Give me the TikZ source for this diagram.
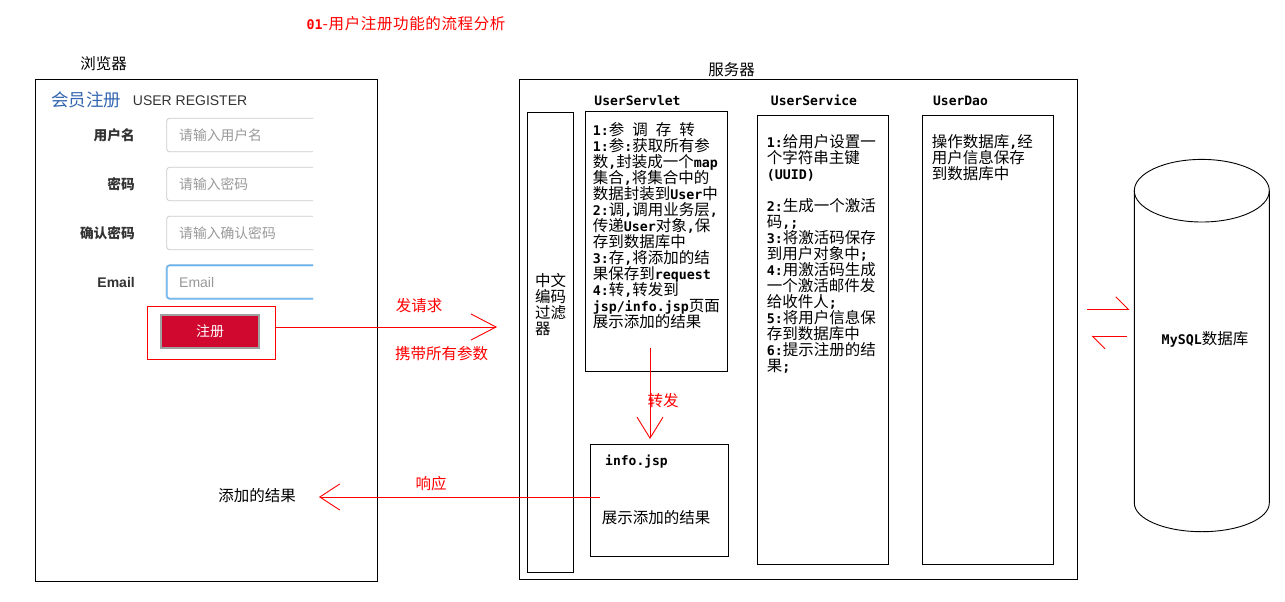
\documentclass[tikz,border=0pt]{standalone}
\usepackage{fontspec}
\setmainfont{Liberation Sans}
\newfontfamily\cjk{Noto Sans CJK SC}
\newfontfamily\monof{DejaVu Sans Mono}
\usetikzlibrary{arrows.meta}
\newcommand\mb[1]{{\monof\bfseries\fontsize{13.3}{16}\selectfont #1}}
\definecolor{dark}{HTML}{333333}
\definecolor{ph}{HTML}{999999}
\definecolor{inb}{HTML}{CCCCCC}
\definecolor{blu}{HTML}{66AFE9}
\definecolor{tblue}{HTML}{3366B0}
\definecolor{btn}{HTML}{D0072F}
\definecolor{btnb}{HTML}{A0A0A0}
\tikzset{
  box/.style={draw=black, line width=0.9pt, inner sep=0pt, anchor=north west},
  redln/.style={draw=red, line width=0.9pt},
  openarrow/.style={-{Straight Barb[length=#1, width=26pt]}},
  harp/.style={draw=red, line width=0.9pt, -{Straight Barb[harpoon, length=12.5pt, width=25pt]}},
  txt/.style={inner sep=0pt, align=left, anchor=north west, font=\cjk\fontsize{15.5}{16}\selectfont},
  lbl/.style={inner sep=0pt, font=\cjk\fontsize{15.5}{16}\selectfont},
  redlbl/.style={lbl, text=red},
  head/.style={inner sep=0pt, font=\monof\bfseries\fontsize{13}{16}\selectfont},
  flab/.style={inner sep=0pt, anchor=east, text=dark, font=\cjk\bfseries\fontsize{13.7}{16}\selectfont},
  phold/.style={inner sep=0pt, anchor=west, text=ph, font=\cjk\fontsize{13.8}{16}\selectfont},
  field/.style={draw=inb, line width=0.8pt, rounded corners=3pt},
}
\begin{document}
\begin{tikzpicture}[x=1pt, y=-1pt]
\fill[white] (0,0) rectangle (1285,602);
\useasboundingbox (0,0) rectangle (1285,602);

% title
\node[redlbl, anchor=west] (title) at (306.5,24) {\mb{01}\addfontfeature{LetterSpace=4}-用户注册功能的流程分析};

% browser
\node[lbl] (brlabel) at (103.5,63.5) {浏览器};
\node[box, minimum width=342pt, minimum height=502pt] (browser) at (34.5,79) {};
\node[inner sep=0pt, anchor=center, text=tblue, font=\cjk\fontsize{17.5}{20}\selectfont] (hy) at (86,99.5) {会员注册};
\node[inner sep=0pt, anchor=west, text=dark, font=\fontsize{14}{16}\selectfont] (ur) at (132.7,101) {USER REGISTER};

\node[flab] (l1) at (135,135) {用户名};
\node[flab] (l2) at (135,184) {密码};
\node[flab] (l3) at (135,233) {确认密码};
\node[inner sep=0pt, anchor=east, text=dark, font=\bfseries\fontsize{14}{16}\selectfont] (l4) at (135,282) {Email};

\draw[field] (313,118.3) -- (166.7,118.3) -- (166.7,151.7) -- (313,151.7);
\draw[field] (313,167.3) -- (166.7,167.3) -- (166.7,200.7) -- (313,200.7);
\draw[field] (313,216.3) -- (166.7,216.3) -- (166.7,249.7) -- (313,249.7);
\draw[field, draw=blu!60, line width=2.2pt] (313,265.3) -- (166.7,265.3) -- (166.7,298.7) -- (313,298.7);
\draw[field, draw=blu, line width=0.9pt] (313,265.3) -- (166.7,265.3) -- (166.7,298.7) -- (313,298.7);
\node[phold] (p1) at (179,135) {请输入用户名};
\node[phold] (p2) at (179,184) {请输入密码};
\node[phold] (p3) at (179,233) {请输入确认密码};
\node[inner sep=0pt, anchor=west, text=ph, font=\fontsize{14}{16}\selectfont] (p4) at (179,282) {Email};

\node[draw=red, line width=0.9pt, inner sep=0pt, anchor=north west, minimum width=127.7pt, minimum height=53.3pt] (regbox) at (147.3,306) {};
\node[draw=btnb, fill=btn, line width=2pt, inner sep=0pt, minimum width=98pt, minimum height=32.5pt, text=white, font=\cjk\fontsize{14}{16}\selectfont] (btn) at (210,331.5) {注册};

% request arrow
\coordinate (reqtip) at (497,327);
\draw[redln, openarrow=25pt] (regbox.east |- reqtip) -- (reqtip);
\node[redlbl] (fq) at (419,305.5) {发请求};
\node[redlbl] (xd) at (441.5,353.5) {携带所有参数};

% server
\node[lbl] (svlabel) at (731.5,70) {服务器};
\node[box, minimum width=557.4pt, minimum height=500.3pt] (server) at (519.3,79) {};
\node[box, minimum width=46.3pt, minimum height=460pt] (filter) at (527,112) {};
\node[txt] (filtertxt) at (535,273) {中文\\编码\\过滤\\器};

\node[head] (h1) at (637.5,101) {UserServlet};
\node[box, minimum width=141.7pt, minimum height=260pt] (servlet) at (585,111) {};
\node[txt] (servtxt) at (592.7,122) {\mb{1:}参\mb{ }调\mb{ }存\mb{ }转\\
\mb{1:}参\mb{:}获取所有参\\
数\mb{,}封装成一个\mb{map}\\
集合\mb{,}将集合中的\\
数据封装到\mb{User}中\\
\mb{2:}调\mb{,}调用业务层\mb{,}\\
传递\mb{User}对象\mb{,}保\\
存到数据库中\\
\mb{3:}存\mb{,}将添加的结\\
果保存到\mb{request}\\
\mb{4:}转\mb{,}转发到\\
\mb{jsp/info.jsp}页面\\
展示添加的结果};

\node[head] (h2) at (814,100.7) {UserService};
\node[box, minimum width=131pt, minimum height=449pt] (service) at (757.3,115) {};
\node[txt] (svctxt) at (766.7,134) {\mb{1:}给用户设置一\\
个字符串主键\\
\mb{(UUID)}\\[16pt]
\mb{2:}生成一个激活\\
码\mb{,;}\\
\mb{3:}将激活码保存\\
到用户对象中\mb{;}\\
\mb{4:}用激活码生成\\
一个激活邮件发\\
给收件人\mb{;}\\
\mb{5:}将用户信息保\\
存到数据库中\\
\mb{6:}提示注册的结\\
果\mb{;}};

\node[head] (h3) at (960.5,101) {UserDao};
\node[box, minimum width=131pt, minimum height=449pt] (dao) at (921.7,115) {};
\node[txt] (daotxt) at (931.7,134.5) {操作数据库\mb{,}经\\
用户信息保存\\
到数据库中};

% info.jsp
\node[box, minimum width=138pt, minimum height=112pt] (info) at (589.5,444) {};
\node[head, anchor=west] (h4) at (605,462) {info.jsp};
\node[lbl] (infotxt) at (656,518) {展示添加的结果};

% forward arrow
\coordinate (fwdstart) at (650,348);
\draw[redln, openarrow=21pt, shorten >=5pt] (fwdstart) -- (fwdstart |- info.north);
\node[redlbl] (zf) at (663,401) {转发};

% response arrow
\node[lbl] (result) at (257,496) {添加的结果};
\coordinate (respstart) at (600,497);
\draw[redln, openarrow=20pt, shorten >=23pt] (respstart) -- (respstart -| result.east);
\node[redlbl] (xy) at (431,484) {响应};

% database
\draw[line width=0.9pt] (1201.8,190.7) ellipse [x radius=67.5, y radius=31.3];
\draw[line width=0.9pt] (1134.3,190.7) -- (1134.3,503) arc[start angle=180, end angle=0, x radius=67.5, y radius=28.7] -- (1269.3,190.7);
\node[lbl] (db) at (1205,339) {\mb{MySQL}数据库};

\coordinate (a1s) at (1087.3,309.3);
\coordinate (a1e) at (1129.3,309.3);
\coordinate (a2s) at (1127,336.3);
\coordinate (a2e) at (1091.5,336.3);
\draw[harp] (a1s) -- (a1e);
\draw[harp] (a2s) -- (a2e);
\end{tikzpicture}
\end{document}
